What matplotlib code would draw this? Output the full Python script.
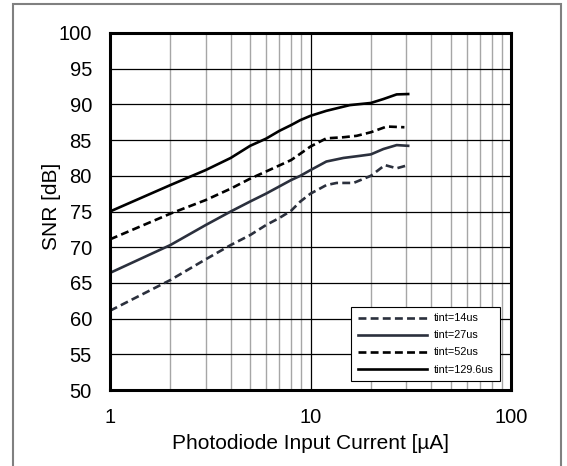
import numpy as np
import matplotlib
matplotlib.use('Agg')
from matplotlib import pyplot as plt
from matplotlib.patches import Rectangle

plt.rcParams['font.family'] = ['Liberation Sans', 'DejaVu Sans']

# photodiode current [uA] and SNR [dB]
x_14 = [1, 2, 3, 4, 5, 6, 7, 8, 8.9, 10, 12, 13.5, 16.4, 20, 23.5, 26.9, 30.7]
snr_14 = [61.1, 65.4, 68.3, 70.3, 71.7, 73.1, 74.1, 75.1, 76.4, 77.5, 78.7, 79.0, 79.0, 80.0, 81.5, 81.05, 81.5]

x_27 = [1, 2, 3, 4, 5, 6, 8, 8.9, 10, 12, 14.6, 17.7, 20, 23.1, 26.9, 30.7]
snr_27 = [66.4, 70.3, 73.1, 75.0, 76.4, 77.5, 79.4, 80.0, 80.8, 82.0, 82.5, 82.8, 83.0, 83.75, 84.3, 84.2]

x_52 = [1, 2, 3, 4, 5, 6, 8, 8.9, 10, 12, 14.6, 17, 20, 24, 29.4]
snr_52 = [71.1, 74.7, 76.6, 78.2, 79.6, 80.6, 82.2, 83.1, 84.1, 85.25, 85.4, 85.6, 86.1, 86.9, 86.8]

x_130 = [1, 2, 3, 4, 5, 6, 7, 8, 8.9, 10, 12, 15.7, 20, 23.1, 26.9, 30.7]
snr_130 = [75.0, 78.7, 80.8, 82.5, 84.2, 85.2, 86.3, 87.1, 87.8, 88.4, 89.1, 89.9, 90.2, 90.75, 91.4, 91.45]

fig = plt.figure(figsize=(5.67, 4.66), dpi=100)
ax = fig.add_axes([110/567, 1-390/466, 401/567, 357/466])

# outer gray frame
fig.patches.append(Rectangle((13/567, -0.05), 548/567, 1.05 - 4/466, transform=fig.transFigure,
                             fill=False, edgecolor='#808080', linewidth=1.5))

dash = (0, (3.0, 1.6))
lw = 1.9
ax.plot(x_14, snr_14, color='#2b303d', lw=lw, linestyle=dash, label='tint=14us')
ax.plot(x_27, snr_27, color='#2b303d', lw=lw, linestyle='solid', label='tint=27us')
ax.plot(x_52, snr_52, color='k', lw=lw, linestyle=dash, label='tint=52us')
ax.plot(x_130, snr_130, color='k', lw=lw, linestyle='solid', label='tint=129.6us')

ax.set_xscale('log')
ax.set_xlim(1, 100)
ax.set_ylim(50, 100)
ax.set_yticks(np.arange(50, 101, 5))
ax.set_xticks([1, 10, 100])
ax.set_xticklabels(['1', '10', '100'])
ax.xaxis.set_minor_formatter(matplotlib.ticker.NullFormatter())

ax.grid(True, which='major', axis='both', color='k', linewidth=0.9)
ax.grid(True, which='minor', axis='x', color='#a6a6a6', linewidth=1.0)
ax.tick_params(which='both', length=0, labelsize=14.5)
ax.tick_params(axis='y', pad=13)
ax.tick_params(axis='x', pad=13)
for s in ax.spines.values():
    s.set_linewidth(2.2)
    s.set_zorder(5)

ax.set_xlabel('Photodiode Input Current [µA]', fontsize=15)
ax.set_ylabel('SNR [dB]', fontsize=15)
ax.xaxis.set_label_coords(0.5, -0.122)
ax.yaxis.set_label_coords(-0.122, 0.513)

leg = ax.legend(loc='lower right', bbox_to_anchor=(0.9726, 0.0252), borderaxespad=0,
                fontsize=7.8, frameon=True, fancybox=False, edgecolor='k', framealpha=1,
                handlelength=6.4, labelspacing=0.65, borderpad=0.6, handletextpad=0.6)
leg.get_frame().set_linewidth(0.8)

fig.savefig('out.png', dpi=100)
